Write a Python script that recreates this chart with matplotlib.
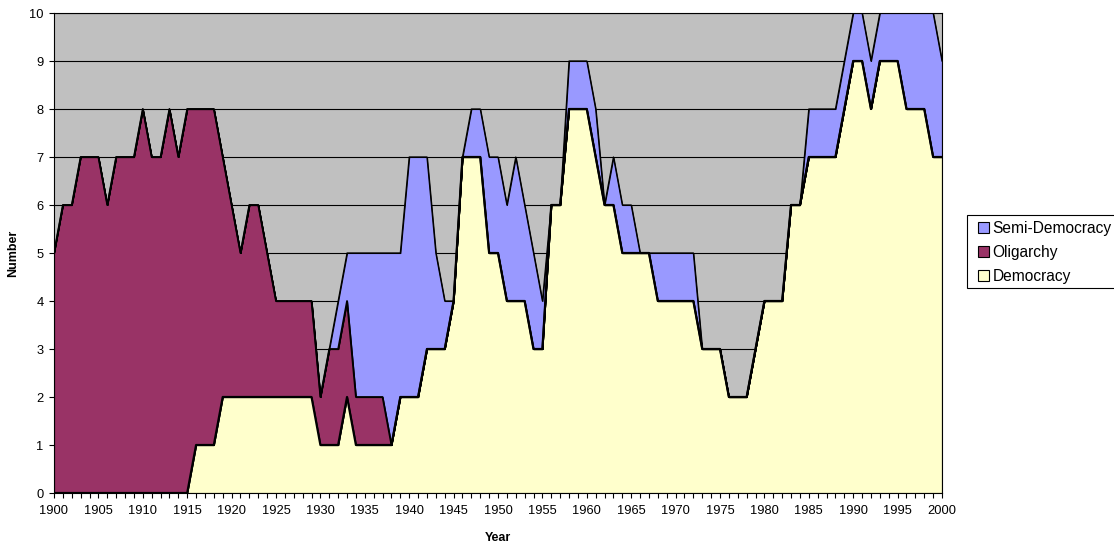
import matplotlib
matplotlib.use("Agg")
import matplotlib.pyplot as plt
from matplotlib.patches import Patch, Rectangle
import numpy as np

plt.rcParams['font.family'] = ['Liberation Sans', 'DejaVu Sans']

years = list(range(1900, 2001))

democracy = (
    [0] * 16 +                                   # 1900-1915
    [1, 1, 1] +                                  # 1916-1918
    [2] * 11 +                                   # 1919-1929
    [1, 1, 1, 2, 1, 1, 1, 1, 1] +                # 1930-1938
    [2, 2, 2, 3, 3, 3, 4] +                      # 1939-1945
    [7, 7, 7, 5, 5, 4, 4, 4, 3, 3] +             # 1946-1955
    [6, 6, 8, 8, 8, 7, 6, 6, 5, 5] +             # 1956-1965
    [5, 5, 4, 4, 4, 4, 4, 3, 3, 3] +             # 1966-1975
    [2, 2, 2, 3, 4, 4, 4, 6, 6, 7] +             # 1976-1985
    [7, 7, 7, 8, 9, 9, 8, 9, 9, 9] +             # 1986-1995
    [8, 8, 8, 7, 7]                              # 1996-2000
)

oligarchy = (
    [5, 6, 6, 7, 7, 7, 6, 7, 7, 7] +             # 1900-1909
    [8, 7, 7, 8, 7, 8, 7, 7, 7, 5] +             # 1910-1919
    [4, 3, 4, 4, 3, 2, 2, 2, 2, 2] +             # 1920-1929
    [1, 2, 2, 2, 1, 1, 1, 1] +                   # 1930-1937
    [0] * 63                                     # 1938-2000
)

semi_democracy = (
    [0] * 32 +                                   # 1900-1931
    [1, 1, 3, 3, 3, 3, 4, 3] +                   # 1932-1939
    [5, 5, 4, 2, 1, 0] +                         # 1940-1945
    [0, 1, 1, 2, 2, 2, 3, 2, 2, 1] +             # 1946-1955
    [0, 0, 1, 1, 1, 1, 0, 1, 1, 1] +             # 1956-1965
    [0, 0, 1, 1, 1, 1, 1] +                      # 1966-1972
    [0] * 12 +                                   # 1973-1984
    [1, 1, 1, 1, 1, 1, 1, 1, 1, 1, 1] +          # 1985-1995
    [2, 2, 2, 3, 2]                              # 1996-2000
)

series_names = ["Democracy", "Oligarchy", "Semi-Democracy"]
series_colors = ["#FFFFCC", "#993366", "#9999FF"]

W, H = 1114, 545
fig = plt.figure(figsize=(W / 100, H / 100), dpi=100)
ax = fig.add_axes([54 / W, (H - 493) / H, (942 - 54) / W, (493 - 13) / H])
ax.set_facecolor("#C0C0C0")

yrs = np.array(years)
dem = np.array(democracy)
oli = np.array(oligarchy)
semi = np.array(semi_democracy)

ax.stackplot(yrs, dem, oli, semi, colors=series_colors,
             edgecolor="black", linewidth=0.8, zorder=2)
ax.plot(yrs, dem + oli + semi, color="black", lw=0.9, zorder=3)
ax.plot(yrs, dem + oli, color="black", lw=1.3, zorder=3)
ax.plot(yrs, dem, color="black", lw=1.6, zorder=3)

ax.set_xlim(1900, 2000)
ax.set_ylim(0, 10)
ax.set_yticks(range(0, 11))
ax.set_xticks(years)
ax.set_xticklabels([str(y) if y % 5 == 0 else "" for y in years])
ax.yaxis.grid(True, color="black", lw=0.8, zorder=1)
ax.set_axisbelow(True)

ax.tick_params(axis="both", direction="out", length=3.5, width=0.8,
               labelsize=9.3, colors="black")
ax.tick_params(axis="x", pad=5)
ax.tick_params(axis="y", pad=4)
for s in ax.spines.values():
    s.set_color("black")
    s.set_linewidth(0.8)

ax.set_xlabel("Year", fontsize=9, fontweight="bold", labelpad=11)
ax.set_ylabel("Number", fontsize=9, fontweight="bold", labelpad=7)

# legend frame runs off the right edge of the figure
fig.patches.append(Rectangle((967 / W, (H - 288) / H), 200 / W, 73 / H,
                             transform=fig.transFigure, facecolor="white",
                             edgecolor="black", lw=0.8, zorder=4))

handles = [Patch(facecolor=c, edgecolor="black", lw=0.8)
           for c in series_colors][::-1]
labels = series_names[::-1]
leg = fig.legend(handles, labels, loc="center left",
                 bbox_to_anchor=(978 / W, (H - 252.5) / H),
                 fontsize=11.2, frameon=False,
                 handlelength=0.72, handleheight=0.7,
                 handletextpad=0.2, labelspacing=0.6, borderpad=0.0,
                 borderaxespad=0)
leg.set_zorder(5)

fig.savefig("out.png", dpi=100)
